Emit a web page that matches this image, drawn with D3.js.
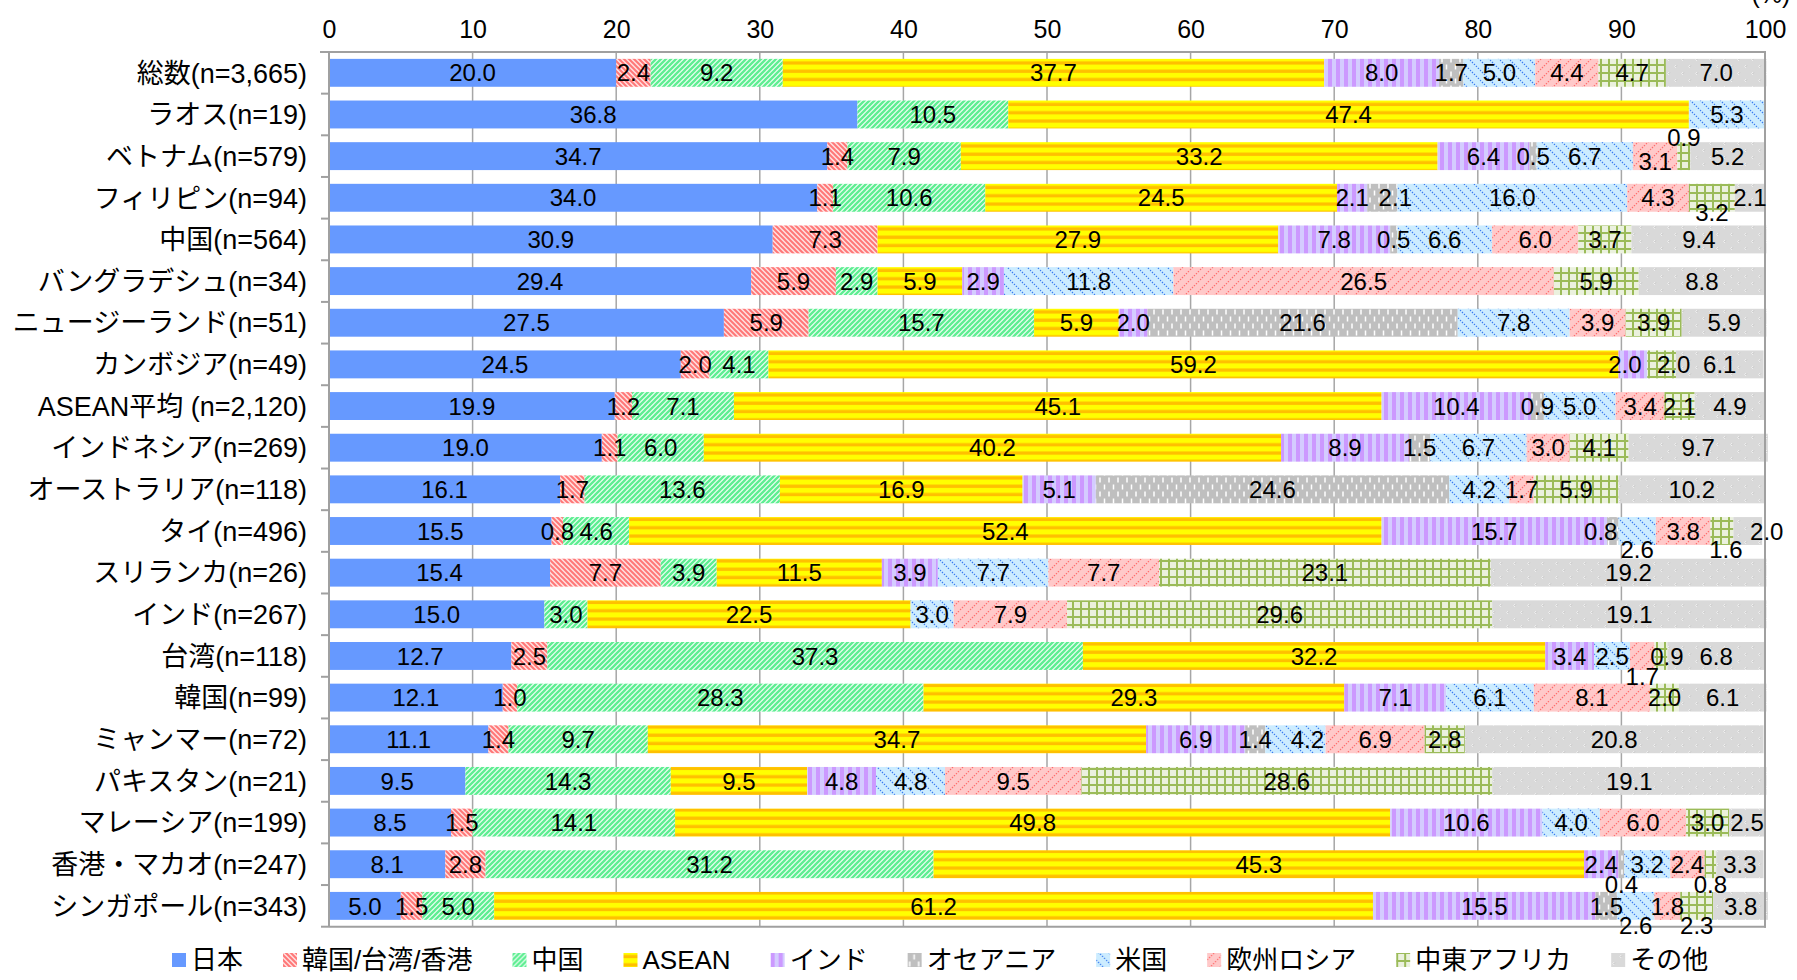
<!DOCTYPE html>
<html><head><meta charset="utf-8">
<script src="https://cdn.jsdelivr.net/npm/d3@7/dist/d3.min.js"></script>
<style>
html,body{margin:0;padding:0;background:#fff;overflow:hidden;}
svg{display:block;font-family:"Liberation Sans",Arial,"Noto Sans CJK JP",sans-serif;}
</style></head>
<body>
<svg id="chart" width="1797" height="980"></svg>
<script>
const categories = ["総数(n=3,665)","ラオス(n=19)","ベトナム(n=579)","フィリピン(n=94)","中国(n=564)","バングラデシュ(n=34)","ニュージーランド(n=51)","カンボジア(n=49)","ASEAN平均 (n=2,120)","インドネシア(n=269)","オーストラリア(n=118)","タイ(n=496)","スリランカ(n=26)","インド(n=267)","台湾(n=118)","韓国(n=99)","ミャンマー(n=72)","パキスタン(n=21)","マレーシア(n=199)","香港・マカオ(n=247)","シンガポール(n=343)"];
const seriesNames = ["日本","韓国/台湾/香港","中国","ASEAN","インド","オセアニア","米国","欧州ロシア","中東アフリカ","その他"];
const japan    = [20.0,36.8,34.7,34.0,30.9,29.4,27.5,24.5,19.9,19.0,16.1,15.5,15.4,15.0,12.7,12.1,11.1,9.5,8.5,8.1,5.0];
const korTwHk  = [2.4,0,1.4,1.1,7.3,5.9,5.9,2.0,1.2,1.1,1.7,0.8,7.7,0,2.5,1.0,1.4,0,1.5,2.8,1.5];
const china    = [9.2,10.5,7.9,10.6,0,2.9,15.7,4.1,7.1,6.0,13.6,4.6,3.9,3.0,37.3,28.3,9.7,14.3,14.1,31.2,5.0];
const asean    = [37.7,47.4,33.2,24.5,27.9,5.9,5.9,59.2,45.1,40.2,16.9,52.4,11.5,22.5,32.2,29.3,34.7,9.5,49.8,45.3,61.2];
const india    = [8.0,0,6.4,2.1,7.8,2.9,2.0,2.0,10.4,8.9,5.1,15.7,3.9,0,3.4,7.1,6.9,4.8,10.6,2.4,15.5];
const oceania  = [1.7,0,0.5,2.1,0.5,0,21.6,0,0.9,1.5,24.6,0.8,0,0,0,0,1.4,0,0,0.4,1.5];
const usa      = [5.0,5.3,6.7,16.0,6.6,11.8,7.8,0,5.0,6.7,4.2,2.6,7.7,3.0,2.5,6.1,4.2,4.8,4.0,3.2,2.6];
const europe   = [4.4,0,3.1,4.3,6.0,26.5,3.9,0,3.4,3.0,1.7,3.8,7.7,7.9,1.7,8.1,6.9,9.5,6.0,2.4,1.8];
const meAfrica = [4.7,0,0.9,3.2,3.7,5.9,3.9,2.0,2.1,4.1,5.9,1.6,23.1,29.6,0.9,2.0,2.8,28.6,3.0,0.8,2.3];
const other    = [7.0,0,5.2,2.1,9.4,8.8,5.9,6.1,4.9,9.7,10.2,2.0,19.2,19.1,6.8,6.1,20.8,19.1,2.5,3.3,3.8];
const tickValues = [0,10,20,30,40,50,60,70,80,90,100];
const unitLabel = "(%)";

// label nudges (pixels) for crowded small segments, as in the original
const labelNudges = [
  {cat:"ベトナム(n=579)", s:"中東アフリカ", dx:0, dy:-19},
  {cat:"ベトナム(n=579)", s:"欧州ロシア", dx:0, dy:5},
  {cat:"フィリピン(n=94)", s:"オセアニア", dx:13, dy:0},
  {cat:"フィリピン(n=94)", s:"中東アフリカ", dx:0, dy:15},
  {cat:"カンボジア(n=49)", s:"インド", dx:-8, dy:0},
  {cat:"カンボジア(n=49)", s:"中東アフリカ", dx:12, dy:0},
  {cat:"タイ(n=496)", s:"オセアニア", dx:-12, dy:0},
  {cat:"タイ(n=496)", s:"米国", dx:0, dy:18},
  {cat:"タイ(n=496)", s:"中東アフリカ", dx:4, dy:18},
  {cat:"タイ(n=496)", s:"その他", dx:19, dy:0},
  {cat:"台湾(n=118)", s:"欧州ロシア", dx:0, dy:20},
  {cat:"台湾(n=118)", s:"中東アフリカ", dx:6, dy:0},
  {cat:"ミャンマー(n=72)", s:"米国", dx:12, dy:0},
  {cat:"香港・マカオ(n=247)", s:"オセアニア", dx:0, dy:20},
  {cat:"香港・マカオ(n=247)", s:"中東アフリカ", dx:0, dy:20},
  {cat:"シンガポール(n=343)", s:"米国", dx:0, dy:19},
  {cat:"シンガポール(n=343)", s:"中東アフリカ", dx:0, dy:19}
];

const seriesArrays = [japan,korTwHk,china,asean,india,oceania,usa,europe,meAfrica,other];
const rows = categories.map((c,i)=>{
  const r = {cat:c};
  seriesNames.forEach((s,j)=>{ r[s] = seriesArrays[j][i]; });
  return r;
});

const svg = d3.select("#chart");
const defs = svg.append("defs");
const pL = 329, pR = 1765, pT = 52, pB = 926.7;

const x = d3.scaleLinear().domain([0,100]).range([pL,pR]);
const y = d3.scaleBand().domain(categories).range([pT,pB]).paddingInner(0.33).paddingOuter(0.165);

// patterns
function pat(id,w,h,bg){
  const p = defs.append("pattern").attr("id",id).attr("patternUnits","userSpaceOnUse").attr("width",w).attr("height",h);
  if(bg) p.append("rect").attr("width",w).attr("height",h).attr("fill",bg);
  return p;
}
{const p = pat("p1",5,5,"#FFE0E0");
 p.append("path").attr("d","M-1,-1L6,6M-1,4L1,6M4,-1L6,1").attr("stroke","#FF7777").attr("stroke-width",2);}
{const p = pat("p2",5,5,"#F0FFF5");
 p.append("path").attr("d","M-1,6L6,-1M-1,1L1,-1M4,6L6,4").attr("stroke","#5EEE92").attr("stroke-width",2.3);}
{const p = pat("p3",8,8.3,"#FFFF00");
 p.append("rect").attr("y",3.2).attr("width",8).attr("height",3.3).attr("fill","#FFC000");}
{const p = pat("p4",8,8,"#D4CCFF");
 p.append("rect").attr("x",0).attr("width",4).attr("height",8).attr("fill","#CC99FF");}
{const p = pat("p5",9,14,"#BFBFBF");
 p.append("path").attr("d","M2,1.5V6.5M6.5,8.5V13.5").attr("stroke","#FFFFFF").attr("stroke-width",1.5);}
{const p = pat("p6",10,10,"#CCECFF");
 p.append("path").attr("d","M0,0L10,10M-5,5L5,15M5,-5L15,5").attr("stroke","#3A7BF0").attr("stroke-width",1.2).attr("stroke-dasharray","1.4,1.4");}
{const p = pat("p7",10,10,"#FFC9C9");
 p.append("path").attr("d","M0,10L10,0M-5,5L5,-5M5,15L15,5").attr("stroke","#FF6B6B").attr("stroke-width",1.2).attr("stroke-dasharray","1.4,1.4");}
{const p = pat("p8",8,8,"#EBF1DE");
 p.append("path").attr("d","M1,0V8M0,1H8").attr("stroke","#9BBB59").attr("stroke-width",2);}
{const p = pat("p9",14,14,"#D9D9D9");
 p.append("path").attr("d","M3,2L1.5,3.5L3,5M10,9L8.5,10.5L10,12").attr("stroke","#EEEEEE").attr("stroke-width",1).attr("fill","none");
 p.append("path").attr("d","M4,2.5L2.5,4M11,9.5L9.5,11").attr("stroke","#C4C4C4").attr("stroke-width",0.8).attr("fill","none");}

const fills = {"日本":"#6699FF","韓国/台湾/香港":"url(#p1)","中国":"url(#p2)","ASEAN":"url(#p3)","インド":"url(#p4)","オセアニア":"url(#p5)","米国":"url(#p6)","欧州ロシア":"url(#p7)","中東アフリカ":"url(#p8)","その他":"url(#p9)"};

// gridlines
svg.append("g").selectAll("line").data(tickValues.filter(v=>v>0 && v<100)).join("line")
  .attr("x1",d=>x(d)).attr("x2",d=>x(d)).attr("y1",pT).attr("y2",pB)
  .attr("stroke","#A6A6A6").attr("stroke-width",1.5);

// bars
const stack = d3.stack().keys(seriesNames)(rows);
const layers = svg.append("g").selectAll("g").data(stack).join("g").attr("fill",d=>fills[d.key]);
layers.selectAll("rect").data(d=>d.filter(s=>s[1]-s[0]>0)).join("rect")
  .attr("x",d=>x(d[0])).attr("width",d=>x(d[1])-x(d[0]))
  .attr("y",d=>y(d.data.cat)).attr("height",y.bandwidth());

// frame
const frame = svg.append("g").attr("stroke","#A0A0A0").attr("stroke-width",2).attr("fill","none");
frame.append("line").attr("x1",pL-9).attr("x2",pR+1).attr("y1",pT).attr("y2",pT);
frame.append("line").attr("x1",pL).attr("x2",pL).attr("y1",pT).attr("y2",pB);
frame.append("line").attr("x1",pR).attr("x2",pR).attr("y1",pT).attr("y2",pB+1);
frame.append("line").attr("x1",pL).attr("x2",pR+1).attr("y1",pB).attr("y2",pB);
const bounds = d3.range(1,categories.length+1).map(i=>pT + i*y.step());
frame.selectAll(".t").data(bounds).join("line").attr("class","t")
  .attr("x1",pL-8).attr("x2",pL).attr("y1",d=>d).attr("y2",d=>d);

// top axis
const ax = svg.append("g").attr("transform",`translate(0,${pT})`)
  .call(d3.axisTop(x).tickValues(tickValues).tickSize(0).tickPadding(14).tickFormat(d3.format("d")));
ax.select(".domain").remove();
ax.selectAll("text").attr("font-size",25).attr("fill","#000");
ax.attr("font-family",null);
svg.append("text").attr("x",x(100)+6).attr("y",3).attr("text-anchor","middle").attr("font-size",25).text(unitLabel);

// category labels
svg.append("g").selectAll("text").data(categories).join("text")
  .attr("x",pL-22).attr("y",d=>y(d)+y.bandwidth()/2).attr("dy","0.36em")
  .attr("text-anchor","end").attr("font-size",27).attr("fill","#000").text(d=>d);

// data labels
const nudge = (cat,s)=> labelNudges.find(n=>n.cat===cat && n.s===s) || {dx:0,dy:0};
const fmt = d3.format(".1f");
const lab = svg.append("g").attr("font-size",24).attr("fill","#000").attr("text-anchor","middle");
stack.forEach(layer=>{
  layer.forEach(seg=>{
    const v = seg[1]-seg[0];
    if(v<=0) return;
    const n = nudge(seg.data.cat, layer.key);
    lab.append("text")
      .attr("x", (x(seg[0])+x(seg[1]))/2 + n.dx)
      .attr("y", y(seg.data.cat)+y.bandwidth()/2 + n.dy)
      .attr("dy","0.36em")
      .text(fmt(seg.data[layer.key]));
  });
});

// legend
const lg = svg.append("g").attr("transform","translate(172,960)");
let cx = 0;
seriesNames.forEach(s=>{
  const g = lg.append("g").attr("transform",`translate(${cx},0)`);
  g.append("rect").attr("x",0).attr("y",-7).attr("width",14).attr("height",14).attr("fill",fills[s]);
  const t = g.append("text").attr("x",19).attr("y",0).attr("dy","0.36em").attr("font-size",26).attr("fill","#000").text(s);
  cx += 19 + t.node().getComputedTextLength() + 40;
});
</script>
</body></html>
